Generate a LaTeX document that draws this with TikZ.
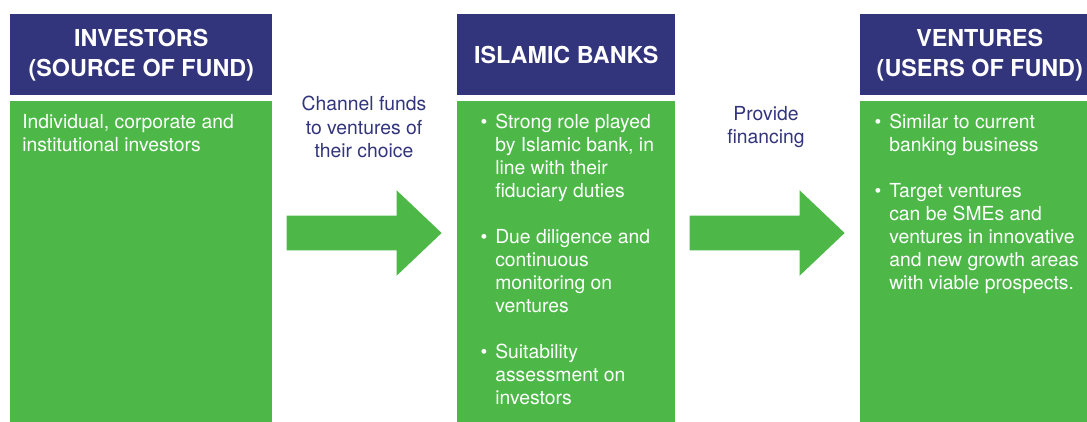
\documentclass[tikz,border=0pt]{standalone}
\usepackage{fontspec}
\setmainfont{TeX Gyre Heros}
\usepackage{xcolor}
\definecolor{headblue}{HTML}{32347C}
\definecolor{fundgreen}{HTML}{4DB848}
\usepackage{tikz}
\usetikzlibrary{shapes.arrows,positioning}
\newcommand{\bul}{\llap{\textbullet\hspace{6pt}}}

\begin{document}
\begin{tikzpicture}[x=0.75pt,y=-0.75pt,
    head/.style={rectangle,fill=headblue,text=white,inner sep=0,minimum height=60.75pt,align=center,font=\fontsize{17.5}{22.5}\selectfont\bfseries},
    body/.style={rectangle,fill=fundgreen,inner sep=0,minimum height=243.75pt},
    bodytext/.style={anchor=north west,inner sep=0,text=white,align=left,font=\fontsize{14.5}{17.25}\selectfont},
    flowtext/.style={text=headblue,align=center,font=\fontsize{14.5}{17.5}\selectfont},
    flow/.style={single arrow,anchor=tip,fill=fundgreen,inner xsep=0,inner ysep=12.75pt,minimum height=116.25pt,minimum width=63.75pt,single arrow head extend=19.125pt,single arrow tip angle=87}]
    \useasboundingbox (0,0) rectangle (1087,421);

    % Investors
    \node[head,minimum width=196.5pt,anchor=north west] (inv) at (10,14) {INVESTORS\\(SOURCE OF FUND)};
    \node[body,minimum width=196.5pt,below=3.75pt of inv] (invbody) {};
    \node[bodytext] (invtext) at (22,114) {Individual, corporate and\\institutional investors};

    % Islamic banks
    \node[head,minimum width=163.5pt,anchor=north west] (bank) at (457,14) {ISLAMIC BANKS};
    \node[body,minimum width=163.5pt,below=3.75pt of bank] (bankbody) {};
    \node[bodytext] (banktext) at (495,114) {\bul Strong role played\\by Islamic bank, in\\line with their\\fiduciary duties\\[17.25pt]
        \bul Due diligence and\\continuous\\monitoring on\\ventures\\[17.25pt]
        \bul Suitability\\assessment on\\investors};

    % Ventures
    \node[head,minimum width=179.25pt,anchor=north west] (vent) at (860,14) {VENTURES\\(USERS OF FUND)};
    \node[body,minimum width=179.25pt,below=3.75pt of vent] (ventbody) {};
    \node[bodytext] (venttext) at (889,114) {\bul Similar to current\\banking business\\[17.25pt]
        \bul Target ventures\\can be SMEs and\\ventures in innovative\\and new growth areas\\with viable prospects.};

    % Flow of funds
    \node[flow] (arr1) at (442,233) {};
    \node[flowtext] (chan) at (364,127) {Channel funds\\to ventures of\\their choice};
    \node[flow] (arr2) at (845,233) {};
    \node[flowtext] (prov) at (766,127) {Provide\\financing};
\end{tikzpicture}
\end{document}
